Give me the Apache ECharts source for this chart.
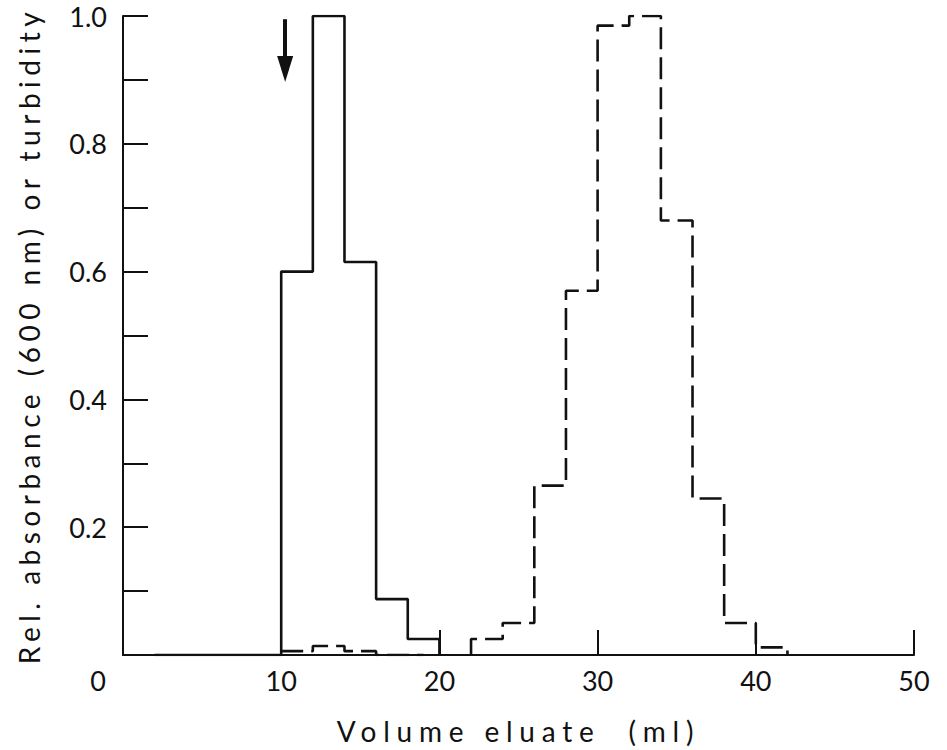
<!DOCTYPE html>
<html>
<head>
<meta charset="utf-8">
<script src="https://cdn.jsdelivr.net/npm/echarts@6/dist/echarts.min.js"></script>
<style>
  html, body { margin: 0; padding: 0; background: #fff; }
  #chart { width: 947px; height: 750px; }
  /* wide lettering for the two axis titles */
  #chart text[style*="sans-serif"] { letter-spacing: 5.5px; white-space: pre; }
  #chart text[style*="Arial"] { letter-spacing: 6.8px; }
</style>
</head>
<body>
<div id="chart"></div>
<script>
// Elution volume (ml) at each step edge, and relative absorbance on the step that starts there
const absorbanceX = [2, 10, 12, 14, 16, 18, 20];
const absorbanceY = [0, 0.60, 1.00, 0.615, 0.0875, 0.025, 0];

// Turbidity profile; '-' breaks the line between the two fraction groups
const turbidityX = [10, 12, 14, 16, 19, 22, 22, 24, 26, 28, 30, 32, 34, 36, 38, 40, 42];
const turbidityY = [0.006, 0.014, 0.006, 0, '-', 0, 0.025, 0.05, 0.265, 0.57, 0.985, 1.0, 0.68, 0.245, 0.05, 0.012, 0];

// Void-volume marker: x, top of shaft, centre of arrow head
const voidMarker = [10.25, 0.995, 0.917];

const xTicks = [0, 10, 20, 30, 40, 50];
const yLabelled = ['0.2', '0.4', '0.6', '0.8', '1.0'];

const ink = '#111';
const labelFont = 'Lato';
const yTitleFont = 'Lato, sans-serif';
const xTitleFont = 'Lato, Arial, sans-serif';

const pairs = (xs, ys) => xs.map((x, i) => [x, ys[i]]);

const chart = echarts.init(document.getElementById('chart'), null, { renderer: 'svg' });

chart.setOption({
  animation: false,
  backgroundColor: '#fff',
  grid: { left: 123, right: 33, top: 16, bottom: 94 },
  xAxis: {
    type: 'value',
    min: xTicks[0],
    max: xTicks[xTicks.length - 1],
    interval: 10,
    name: 'Volume eluate  (ml)',
    nameLocation: 'middle',
    nameGap: 62,
    nameTextStyle: { fontFamily: xTitleFont, fontSize: 28, color: ink },
    axisLine: { lineStyle: { color: ink, width: 2 } },
    axisTick: { inside: true, length: 25, lineStyle: { color: ink, width: 2 } },
    axisLabel: {
      margin: 12,
      fontFamily: labelFont,
      fontSize: 27,
      color: ink,
      formatter: v => (v === 0 ? '{first|0}' : String(v)),
      rich: {
        first: { fontFamily: labelFont, fontSize: 27, color: ink, padding: [0, 50, 0, 0] }
      }
    },
    splitLine: { show: false }
  },
  yAxis: {
    type: 'value',
    min: 0,
    max: 1,
    interval: 0.1,
    name: 'Rel. absorbance (600 nm) or turbidity',
    nameLocation: 'middle',
    nameGap: 80,
    nameRotate: 90,
    nameTextStyle: { fontFamily: yTitleFont, fontSize: 28, color: ink },
    axisLine: { show: true, lineStyle: { color: ink, width: 2 } },
    axisTick: { inside: true, length: 25, lineStyle: { color: ink, width: 2 } },
    axisLabel: {
      margin: 16,
      fontFamily: labelFont,
      fontSize: 27,
      color: ink,
      formatter: v => {
        const s = v.toFixed(1);
        return yLabelled.includes(s) ? s : '';
      }
    },
    splitLine: { show: false }
  },
  series: [
    {
      name: 'Absorbance',
      type: 'line',
      step: 'end',
      symbol: 'none',
      data: pairs(absorbanceX, absorbanceY),
      lineStyle: { color: ink, width: 2.6 },
      markLine: {
        silent: true,
        symbol: ['none', 'triangle'],
        symbolSize: [16, 26],
        label: { show: false },
        lineStyle: { color: ink, width: 4, type: 'solid' },
        data: [[
          { coord: [voidMarker[0], voidMarker[1]] },
          { coord: [voidMarker[0], voidMarker[2]] }
        ]]
      }
    },
    {
      name: 'Turbidity',
      type: 'line',
      step: 'end',
      symbol: 'none',
      connectNulls: false,
      data: pairs(turbidityX, turbidityY),
      lineStyle: { color: ink, width: 2.6, type: [22, 8] }
    }
  ]
});
</script>
</body>
</html>
